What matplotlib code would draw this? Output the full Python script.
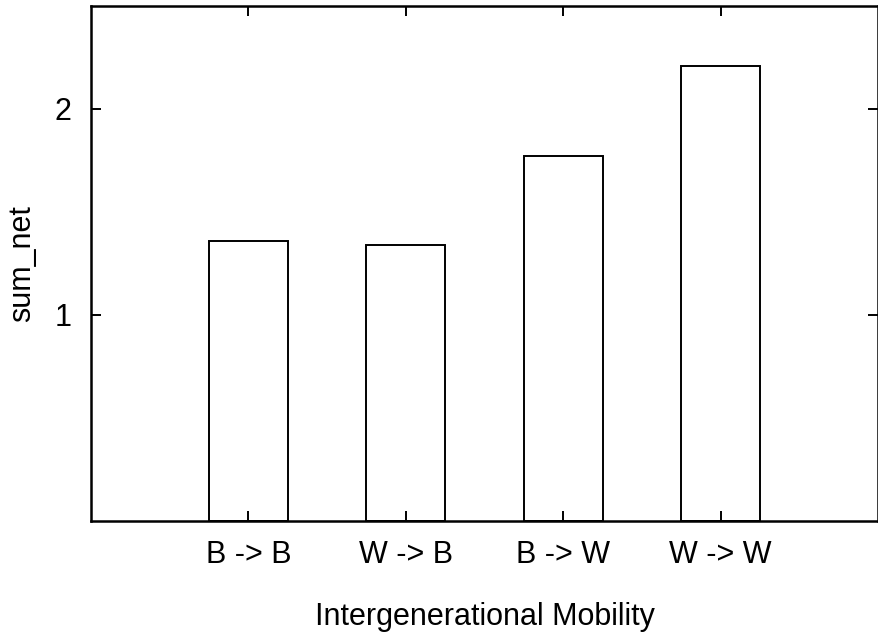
import matplotlib.pyplot as plt

# Bar data
categories = ['B -> B', 'W -> B', 'B -> W', 'W -> W']
sum_net = [1.36, 1.34, 1.77, 2.21]

plt.rcParams['font.family'] = ['Liberation Sans', 'DejaVu Sans']

fig = plt.figure(figsize=(8.79, 6.37), dpi=100)
ax = fig.add_axes([91 / 879, 1 - 521 / 637, (878 - 91) / 879, (521 - 6) / 637])

positions = list(range(1, len(categories) + 1))
ax.bar(positions, sum_net, width=0.5, color='white', edgecolor='black', linewidth=1.4)

ax.set_xlim(0, 5)
ax.set_ylim(0, 2.5)
ax.set_xticks(positions)
ax.set_xticklabels(categories)
ax.set_yticks([1, 2])
ax.set_yticklabels(['1', '2'])
ax.tick_params(direction='in', length=7, width=1.4, labelsize=22,
               top=True, right=True, pad=14)

for spine in ax.spines.values():
    spine.set_linewidth(1.8)

ax.set_xlabel('Intergenerational Mobility', fontsize=22, labelpad=23)
ax.set_ylabel('sum_net', fontsize=22)
ax.yaxis.set_label_coords(-0.069, 0.5)

fig.savefig('out.png', dpi=100)
